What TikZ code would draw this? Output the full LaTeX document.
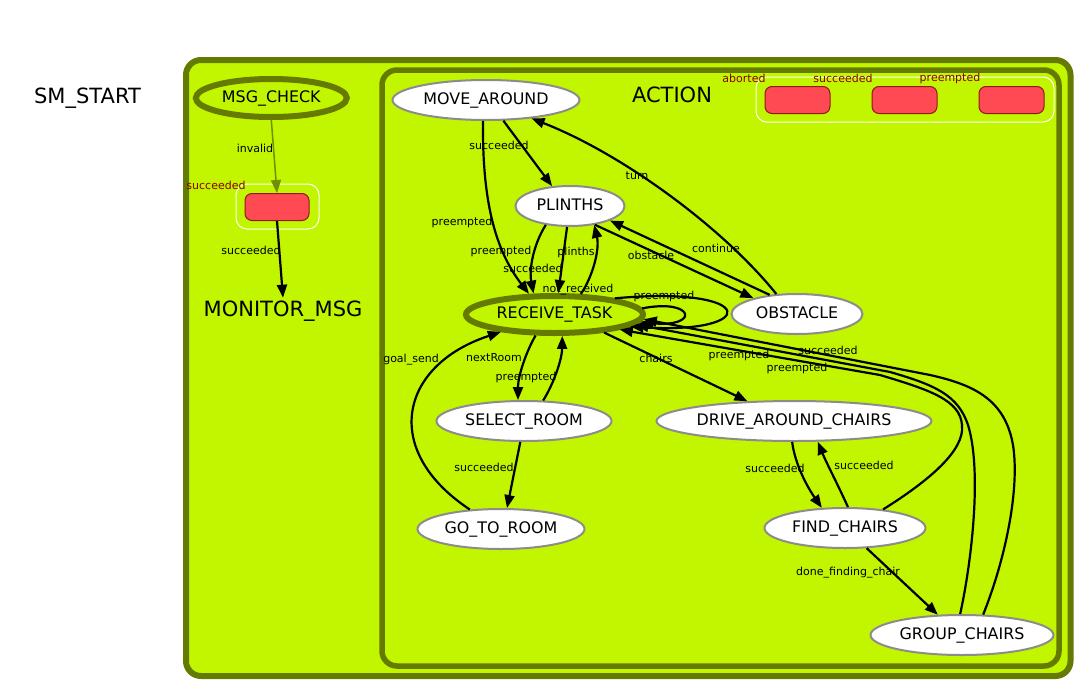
\documentclass[tikz,border=0pt]{standalone}
\usepackage{fontspec}
\setmainfont{DejaVu Sans}
\usetikzlibrary{shapes.geometric,arrows.meta}
\definecolor{limefill}{RGB}{193,246,0}
\definecolor{olivebd}{RGB}{100,122,0}
\definecolor{invalidgreen}{RGB}{112,142,0}
\definecolor{outred}{RGB}{255,74,84}
\definecolor{outbd}{RGB}{139,26,26}
\definecolor{lbred}{RGB}{139,0,0}
\newcommand\statetxt[1]{\makebox[0pt]{\vphantom{\_}#1}}
\tikzset{
  state/.style={ellipse,draw=gray!90,fill=white,line width=2pt,inner sep=0pt,minimum height=40pt,font=\fontsize{15.9}{18}\selectfont},
  active/.style={ellipse,draw=olivebd,fill=limefill,line width=6pt,inner sep=0pt,font=\fontsize{15.9}{18}\selectfont},
  cluster/.style={draw=olivebd,fill=limefill,rounded corners=15pt},
  outbox/.style={draw=white,line width=1pt,rounded corners=11pt},
  outcome/.style={rectangle,rounded corners=7pt,draw=outbd,fill=outred,line width=1pt,minimum width=64pt,minimum height=27pt},
  cont/.style={font=\fontsize{21}{24}\selectfont,inner sep=0pt,anchor=base},
  lbl/.style={font=\fontsize{11}{12}\selectfont,inner sep=0pt},
  outlbl/.style={lbl,text=lbred},
  tr/.style={line width=2.2pt,-{Triangle[length=13pt,width=10pt]}}
}
\begin{document}
\begin{tikzpicture}[x=1pt,y=-1pt]
\useasboundingbox (0,0) rectangle (1090,691);

\draw[cluster,line width=6pt] (186,60) rectangle (1070.5,676);
\draw[cluster,line width=5.5pt] (382,70) rectangle (1059,666);

\node[cont] (smStart) at (87.5,103) {SM\_START};
\node[cont] (action) at (672,102.5) {ACTION};
\node[cont,inner sep=3pt] (monitorMsg) at (283,316.5) {MONITOR\_MSG};

\draw[outbox] (236,184) rectangle (319,229);
\node[outcome] (smOut) at (277,207) {};
\node[outlbl] (smOutLbl) at (216,185) {succeeded};

\draw[outbox] (756,77) rectangle (1054,122);
\node[outcome,minimum width=65pt] (actAborted) at (797.5,100) {};
\node[outcome,minimum width=65pt] (actSucceeded) at (904.5,100) {};
\node[outcome,minimum width=65pt] (actPreempted) at (1011.5,100) {};
\node[outlbl] (actAbortedLbl) at (744,78) {aborted};
\node[outlbl] (actSucceededLbl) at (843,78) {succeeded};
\node[outlbl] (actPreemptedLbl) at (950,78) {preempted};

\node[active,minimum width=151pt,minimum height=38pt] (msgCheck) at (271.3,98) {\statetxt{MSG\_CHECK}};
\node[state,minimum width=187pt] (moveAround) at (486,100) {\statetxt{MOVE\_AROUND}};
\node[state,minimum width=109pt] (plinths) at (570,206) {\statetxt{PLINTHS}};
\node[active,minimum width=177pt,minimum height=37pt] (receiveTask) at (554.5,314.5) {\statetxt{RECEIVE\_TASK}};
\node[state,minimum width=131pt] (obstacle) at (797,314) {\statetxt{OBSTACLE}};
\node[state,minimum width=175pt] (selectRoom) at (524,421) {\statetxt{SELECT\_ROOM}};
\node[state,minimum width=167pt] (goToRoom) at (501,529) {\statetxt{GO\_TO\_ROOM}};
\node[state,minimum width=275pt] (driveChairs) at (794,421) {\statetxt{DRIVE\_AROUND\_CHAIRS}};
\node[state,minimum width=161pt] (findChairs) at (845,528) {\statetxt{FIND\_CHAIRS}};
\node[state,minimum width=183pt] (groupChairs) at (962,635) {\statetxt{GROUP\_CHAIRS}};

\draw[tr,draw=invalidgreen,line width=1.5pt] (msgCheck.south) -- (smOut.north);
\draw[tr] (smOut.south) -- (monitorMsg.north);

\draw[tr] (moveAround.-50) -- (plinths.132);
\draw[tr] (moveAround.-98) .. controls (482,200) and (495,250) .. (receiveTask.141);
\draw[tr] (plinths.-142) .. controls (533,245) and (529,270) .. (receiveTask.135);
\draw[tr] (plinths.-98) -- (receiveTask.80);
\draw[tr] (receiveTask.38) .. controls (592,278) and (600,250) .. (plinths.-38);
\draw[tr] (obstacle.136) .. controls (725,230) and (625,155) .. (moveAround.-22);
\draw[tr] (plinths.-37) -- (obstacle.160);
\draw[tr] (obstacle.145) -- (plinths.-20);
\draw[tr] (receiveTask.4) .. controls (695,298) and (700,328) .. (receiveTask.-5);
\draw[tr] (receiveTask.15) .. controls (760,285) and (760,335) .. (receiveTask.-9);
\draw[tr] (receiveTask.-132) .. controls (527,350) and (518,375) .. (selectRoom.106);
\draw[tr] (selectRoom.47) .. controls (553,385) and (562,360) .. (receiveTask.-70);
\draw[tr] (selectRoom.-100) -- (goToRoom.74);
\draw[tr] (goToRoom.148) .. controls (380,450) and (400,365) .. (receiveTask.-162);
\draw[tr] (receiveTask.-20) -- (driveChairs.157);
\draw[tr] (driveChairs.-95) .. controls (795,465) and (808,488) .. (findChairs.139);
\draw[tr] (findChairs.82) .. controls (838,485) and (826,462) .. (driveChairs.-41);
\draw[tr] (findChairs.-43) -- (groupChairs.140);
\draw[tr] (findChairs.26) .. controls (930,480) and (965,450) .. (962,425) .. controls (960,400) and (930,390) .. (880,375) -- (receiveTask.-13);
\draw[tr] (groupChairs.95) .. controls (972,560) and (982,470) .. (968,425) .. controls (958,395) and (935,385) .. (890,372) -- (receiveTask.-7);
\draw[tr] (groupChairs.44) .. controls (1005,560) and (1020,490) .. (1013,445) .. controls (1005,400) and (975,385) .. (930,375) -- (receiveTask.-3);

\node[lbl] (lInvalid) at (255,148) {invalid};
\node[lbl] (lSmSucc) at (251,250) {succeeded};
\node[lbl] (lMoveSucc) at (499,145) {succeeded};
\node[lbl] (lTurn) at (637,176) {turn};
\node[lbl] (lMovePre) at (462,222) {preempted};
\node[lbl] (lPlinthsPre) at (501,251) {preempted};
\node[lbl] (lPlinthsSucc) at (533,268) {succeeded};
\node[lbl] (lPlinths) at (576,252) {plinths};
\node[lbl] (lObstacle) at (651,255) {obstacle};
\node[lbl] (lContinue) at (716,248) {continue};
\node[lbl] (lNotReceived) at (578,290) {not\_received};
\node[lbl] (lLoopPre) at (664,296) {preempted};
\node[lbl] (lGoalSend) at (411,360) {goal\_send};
\node[lbl] (lNextRoom) at (494,358) {nextRoom};
\node[lbl] (lSelectPre) at (526,377) {preempted};
\node[lbl] (lChairs) at (656,358) {chairs};
\node[lbl] (lFindPre) at (739,355) {preempted};
\node[lbl] (lGroupSucc) at (828,350) {succeeded};
\node[lbl] (lGroupPre) at (797,368) {preempted};
\node[lbl] (lSelectSucc) at (484,467) {succeeded};
\node[lbl] (lDriveSucc) at (775,468) {succeeded};
\node[lbl] (lFindSucc) at (864,465) {succeeded};
\node[lbl] (lDone) at (848,573) {done\_finding\_chair};
\end{tikzpicture}
\end{document}
